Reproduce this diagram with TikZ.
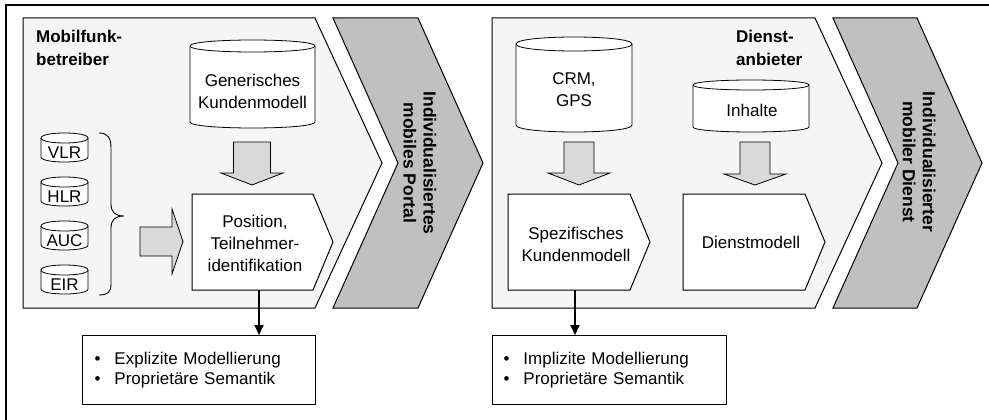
\documentclass[tikz,border=0pt]{standalone}
\usepackage{fontspec}
\setmainfont{Liberation Sans}
\usetikzlibrary{arrows.meta}
\definecolor{panelgray}{HTML}{F5F5F5}
\definecolor{chevgray}{HTML}{C0C0C0}
\definecolor{arrgray}{HTML}{D9D9D9}
\tikzset{
 panel/.style={fill=panelgray, draw=black, line width=1pt, line join=miter},
 chev/.style={fill=chevgray, draw=black, line width=1pt},
 blockarrow/.style={fill=arrgray, draw=black, line width=0.8pt},
 cylbody/.style={fill=white, draw=black, line width=0.8pt},
 pent/.style={fill=white, draw=black, line width=1pt},
 txt/.style={font=\fontsize{17}{22}\selectfont, align=center, inner sep=0pt},
 boldlbl/.style={font=\fontsize{17}{23}\selectfont\bfseries, align=left, inner sep=0pt, anchor=north west},
 chevtxt/.style={font=\fontsize{17.5}{20}\selectfont\bfseries, align=center, inner sep=0pt, rotate=-90},
 tbox/.style={draw=black, fill=white, line width=1pt, font=\fontsize{17}{20}\selectfont, align=left, anchor=north west, minimum height=69pt, inner ysep=0pt},
 conn/.style={line width=2pt, -{Triangle[length=10pt,width=9pt]}},
}
% cylinder: x1, x2, top ellipse centre y, bottom ellipse centre y, ry
\newcommand{\dbcyl}[5]{%
  \filldraw[cylbody] (#1,#3) -- (#1,#4) .. controls (#1,#4+1.333*#5) and (#2,#4+1.333*#5) .. (#2,#4)
     -- (#2,#3) .. controls (#2,#3-1.333*#5) and (#1,#3-1.333*#5) .. (#1,#3) -- cycle;
  \draw[cylbody] (#1,#3) .. controls (#1,#3+1.333*#5) and (#2,#3+1.333*#5) .. (#2,#3);
}
% down block arrow: centre x, shaft half, head half, top, head base, tip
\newcommand{\blkdown}[6]{%
  \filldraw[blockarrow] (#1-#2,#4) -- (#1+#2,#4) -- (#1+#2,#5) -- (#1+#3,#5) -- (#1,#6)
     -- (#1-#3,#5) -- (#1-#2,#5) -- cycle;
}
\begin{document}
\begin{tikzpicture}[x=1pt,y=-1pt]
\useasboundingbox (0,0) rectangle (989,420);
% outer frame (only top and left visible)
\draw[line width=1.5pt] (6,420) -- (6,5) -- (989,5);

% panels
\filldraw[panel] (23,18) -- (315,18) -- (382,163) -- (315,308) -- (23,308) -- cycle;
\filldraw[chev] (333,18) -- (418,18) -- (483,163) -- (418,308) -- (333,308) -- (398,163) -- cycle;
\filldraw[panel] (492,18) -- (815,18) -- (882,163) -- (815,308) -- (492,308) -- cycle;
\filldraw[chev] (833,18) -- (917,18) -- (982,163) -- (917,308) -- (833,308) -- (898,163) -- cycle;

\node[chevtxt] (portal) at (420,163) {Individualisiertes\\mobiles Portal};
\node[chevtxt] (dienst) at (919,162) {Individualisierter\\mobiler Dienst};

% labels
\node[boldlbl] (mob) at (36,29.5) {Mobilfunk-\\betreiber};
\node[boldlbl] (anb) at (736,29.5) {Dienst-\\anbieter};

% left panel cylinders
\dbcyl{190}{315}{46}{122}{6}
\node[txt] (gen) at (252.5,91) {Generisches\\Kundenmodell};

\foreach \t/\lab in {133/VLR,177/HLR,221/AUC,265/EIR}{
  \dbcyl{41}{88}{\t+5}{\t+24}{5}
  \node[txt] (db\lab) at (64.5,\t+19.5) {\lab};
}

% brace
\draw[line width=0.9pt] (99,133) .. controls (108,133) and (111,138) .. (111,148)
  -- (111,204) .. controls (111,212) and (115,216) .. (124,216)
  .. controls (115,216) and (111,220) .. (111,228)
  -- (111,284) .. controls (111,292) and (108,295) .. (99,295);

% horizontal block arrow
\filldraw[blockarrow] (140,227) -- (172,227) -- (172,209) -- (183,241.5) -- (172,274) -- (172,256) -- (140,256) -- cycle;

% down arrows
\blkdown{252}{18.5}{31}{142}{173}{185}
\blkdown{579}{15}{31}{142}{173}{185}
\blkdown{755}{15}{31}{142}{174}{185}

% Position pentagon
\filldraw[pent] (192,194) -- (313,194) -- (333,242) -- (313,290) -- (192,290) -- cycle;
\node[txt] (pos) at (255,243) {Position,\\Teilnehmer-\\identifikation};
\coordinate (posS) at (259,290);

% right panel cylinders
\dbcyl{516}{632}{44}{125}{7}
\node[txt] (crm) at (574,90) {CRM,\\GPS};
\dbcyl{693}{809}{85}{127}{5}
\node[txt] (inh) at (752,110) {Inhalte};

% right pentagons
\filldraw[pent] (508,194) -- (630,194) -- (650,242) -- (630,290) -- (508,290) -- cycle;
\node[txt] (spez) at (576,244) {Spezifisches\\Kundenmodell};
\coordinate (spezS) at (575,290);
\filldraw[pent] (683,194) -- (805,194) -- (825,242) -- (805,290) -- (683,290) -- cycle;
\node[txt] (dm) at (751,242) {Dienstmodell};

% bottom text boxes
\node[tbox, text width=209pt, inner xsep=12pt] (lbox) at (82,335)
  {\makebox[20pt][l]{\textbullet}Explizite Modellierung\\\makebox[20pt][l]{\textbullet}Proprietäre Semantik};
\node[tbox, text width=212pt, inner xsep=11pt] (rbox) at (492,335)
  {\makebox[20pt][l]{\textbullet}Implizite Modellierung\\\makebox[20pt][l]{\textbullet}Proprietäre Semantik};

% connectors
\draw[conn] (posS) -- (posS |- lbox.north);
\draw[conn] (spezS) -- (spezS |- rbox.north);
\end{tikzpicture}
\end{document}
